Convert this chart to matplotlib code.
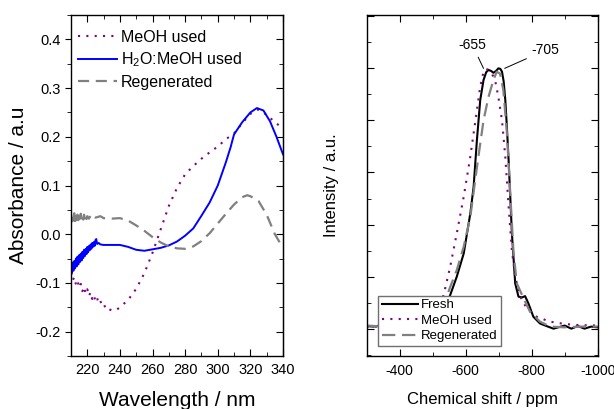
import matplotlib
matplotlib.use("Agg")
import matplotlib.pyplot as plt
from matplotlib.ticker import MultipleLocator

plt.rcParams['font.family'] = ['Liberation Sans', 'DejaVu Sans']
plt.rcParams['axes.unicode_minus'] = False
plt.rcParams['mathtext.default'] = 'regular'

# ---------------- Left panel data (UV-vis) ----------------
wl_meoh = [210, 211, 212, 213, 214, 215, 216, 217, 218, 219, 220, 221, 222, 223, 224,
           225, 226, 227, 228, 229, 230, 231, 232, 233, 234, 236, 238,
           240, 245, 250, 255, 260, 265, 270, 275, 280, 285, 290, 295, 300, 305,
           310, 315, 320, 325, 330, 335, 340]
abs_meoh = [-0.080, -0.095, -0.088, -0.103, -0.095, -0.110, -0.102, -0.117, -0.108,
            -0.122, -0.113, -0.127, -0.119, -0.133, -0.125, -0.138, -0.131, -0.142,
            -0.137, -0.146, -0.143, -0.150, -0.148, -0.154, -0.155, -0.157, -0.155,
            -0.150, -0.135, -0.112, -0.080, -0.038, 0.010, 0.058, 0.095, 0.123,
            0.140, 0.155, 0.168, 0.180, 0.195, 0.207, 0.228, 0.247, 0.256, 0.245,
            0.230, 0.217]

wl_h2o = [210.0, 210.5, 211.0, 211.5, 212.0, 212.5, 213.0, 213.5, 214.0, 214.5,
          215.0, 215.5, 216.0, 216.5, 217.0, 217.5, 218.0, 218.5, 219.0, 219.5,
          220.0, 220.5, 221.0, 221.5, 222.0, 222.5, 223.0, 223.5, 224.0, 224.5,
          225.0, 225.5, 226.0, 227.0, 228, 230, 235, 240, 245, 250, 255, 260, 265,
          270, 275, 280, 285, 290, 295, 300, 305, 308, 309, 310, 315, 320, 324, 328,
          332, 336, 340]
abs_h2o = [-0.062, -0.080, -0.058, -0.075, -0.055, -0.070, -0.050, -0.066, -0.046,
           -0.062, -0.043, -0.057, -0.040, -0.054, -0.036, -0.049, -0.032, -0.045,
           -0.030, -0.041, -0.026, -0.037, -0.024, -0.033, -0.021, -0.030, -0.018,
           -0.026, -0.016, -0.024, -0.012, -0.010, -0.020, -0.018, -0.021, -0.022,
           -0.022, -0.022, -0.026, -0.032, -0.034, -0.031, -0.028, -0.023, -0.015,
           -0.003, 0.012, 0.038, 0.065, 0.100, 0.148, 0.180, 0.193, 0.205, 0.230,
           0.250, 0.259, 0.254, 0.232, 0.200, 0.164]

wl_regen = [210.0, 210.5, 211.0, 211.5, 212.0, 212.5, 213.0, 213.5, 214.0, 214.5,
            215.0, 215.5, 216.0, 216.5, 217.0, 217.5, 218.0, 218.5, 219.0, 219.5,
            220.0, 221.0, 222.0, 223.0, 224.0, 225.0, 226, 228,
            230, 235, 240, 245, 250, 255, 260, 265, 270, 275, 280, 285, 290, 295,
            300, 305, 310, 315, 318, 320, 325, 330, 335, 340]
abs_regen = [0.042, 0.026, 0.040, 0.028, 0.043, 0.027, 0.038, 0.026, 0.040, 0.029,
             0.037, 0.026, 0.042, 0.028, 0.036, 0.030, 0.040, 0.029, 0.038, 0.031,
             0.037, 0.032, 0.038, 0.033, 0.036, 0.034, 0.035, 0.037,
             0.033, 0.032, 0.033, 0.028, 0.018, 0.007, -0.006, -0.017, -0.025,
             -0.029, -0.030, -0.025, -0.014, 0.002, 0.022, 0.042, 0.061, 0.076,
             0.080, 0.078, 0.068, 0.040, 0.000, -0.028]

# ---------------- Right panel data (NMR) ----------------
ppm_fresh = [-300, -320, -340, -350, -360, -380, -400, -450, -500, -520, -540, -553,
             -573, -594, -614, -624, -634, -644, -654, -662, -669, -677, -684, -692,
             -699, -705, -710, -715, -720, -725, -730, -740, -750, -760, -770, -780,
             -790, -805, -825, -845, -866, -880, -900, -920, -940, -960, -980, -1000]
int_fresh = [0.010, 0.008, 0.012, 0.000, 0.008, 0.006, 0.005, 0.005, 0.010, 0.040,
             0.090, 0.129, 0.200, 0.289, 0.443, 0.545, 0.725, 0.878, 0.955, 0.985,
             0.994, 0.990, 0.983, 0.990, 1.000, 0.998, 0.987, 0.950, 0.878, 0.770,
             0.648, 0.366, 0.174, 0.123, 0.120, 0.125, 0.097, 0.046, 0.020, 0.010,
             0.000, 0.005, 0.012, 0.000, 0.010, 0.000, 0.008, 0.005]

ppm_meoh = [-300, -350, -400, -450, -480, -500, -515, -533, -553, -573, -594, -614,
            -634, -644, -654, -662, -669, -679, -689, -699, -710, -720, -730, -740,
            -750, -765, -785, -815, -855, -900, -937, -1000]
int_meoh = [0.008, 0.008, 0.008, 0.010, 0.020, 0.040, 0.070, 0.129, 0.238, 0.366,
            0.507, 0.661, 0.840, 0.930, 0.987, 0.998, 0.994, 0.980, 0.955, 0.890,
            0.800, 0.660, 0.470, 0.300, 0.200, 0.123, 0.078, 0.046, 0.027, 0.018,
            0.014, 0.012]

ppm_regen = [-300, -350, -400, -450, -500, -530, -553, -573, -594, -614, -634, -654,
             -669, -684, -694, -704, -714, -725, -735, -745, -755, -775, -795, -825,
             -856, -900, -950, -1000]
int_regen = [0.012, 0.008, 0.008, 0.010, 0.030, 0.080, 0.160, 0.225, 0.315, 0.430,
             0.620, 0.800, 0.890, 0.955, 0.987, 0.980, 0.917, 0.750, 0.520, 0.290,
             0.174, 0.117, 0.065, 0.027, 0.008, 0.005, 0.008, 0.008]

peak_labels = ['-655', '-705']

# ---------------- Figure ----------------
fig = plt.figure(figsize=(6.14, 4.09), dpi=100)
ax1 = fig.add_axes([71 / 614, 1 - 356 / 409, 212 / 614, 341 / 409])
ax2 = fig.add_axes([366.7 / 614, 1 - 356 / 409, 231 / 614, 341 / 409])

purple = '#800080'
blue = '#0000ff'
gray = '#808080'

ax1.plot(wl_meoh, abs_meoh, color=purple, lw=1.5, linestyle=(0, (1, 3)),
         label='MeOH used')
ax1.plot(wl_h2o, abs_h2o, color=blue, lw=1.4, label='H$_2$O:MeOH used')
ax1.plot(wl_regen, abs_regen, color=gray, lw=1.6, linestyle=(0, (5, 3)),
         label='Regenerated')

ax1.set_xlim(210, 340)
ax1.set_ylim(-0.25, 0.45)
ax1.xaxis.set_minor_locator(MultipleLocator(10))
ax1.yaxis.set_minor_locator(MultipleLocator(0.05))
ax1.set_xticks([220, 240, 260, 280, 300, 320, 340])
ax1.set_yticks([-0.2, -0.1, 0.0, 0.1, 0.2, 0.3, 0.4])
ax1.set_yticklabels(['-0.2', '-0.1', '0.0', '0.1', '0.2', '0.3', '0.4'])
ax1.tick_params(axis='x', which='both', direction='in', top=True, labelsize=10.5, pad=5)
ax1.tick_params(axis='x', which='major', length=5)
ax1.tick_params(axis='x', which='minor', length=3)
ax1.tick_params(axis='y', which='major', direction='out', length=4, labelsize=10.5)
ax1.tick_params(axis='y', which='minor', direction='out', length=3)
ax1.set_xlabel('Wavelength / nm', fontsize=15, labelpad=10)
ax1.set_ylabel('Absorbance / a.u', fontsize=15, labelpad=5)
# right side ticks inward
ax1r = ax1.secondary_yaxis('right')
ax1r.set_yticks([-0.2, -0.1, 0.0, 0.1, 0.2, 0.3, 0.4])
ax1r.yaxis.set_minor_locator(MultipleLocator(0.05))
ax1r.tick_params(axis='y', which='both', direction='in', labelright=False)
ax1r.tick_params(axis='y', which='major', length=5)
ax1r.tick_params(axis='y', which='minor', length=3)
leg1 = ax1.legend(loc='upper left', bbox_to_anchor=(-0.01, 0.985), frameon=False,
                  fontsize=11.5, handlelength=2.4, handletextpad=0.25,
                  labelspacing=0.35, borderaxespad=0.2)

# Right panel
ax2.plot(ppm_fresh, int_fresh, color='black', lw=1.5, label='Fresh')
ax2.plot(ppm_meoh, int_meoh, color=purple, lw=1.5, linestyle=(0, (1, 3)),
         label='MeOH used')
ax2.plot(ppm_regen, int_regen, color=gray, lw=1.6, linestyle=(0, (6, 3)),
         label='Regenerated')
ax2.set_xlim(-300, -1000)
ax2.set_ylim(-0.105, 1.205)
ax2.set_xticks([-400, -600, -800, -1000])
ax2.xaxis.set_minor_locator(MultipleLocator(100))
ax2.yaxis.set_major_locator(MultipleLocator(0.2))
ax2.yaxis.set_minor_locator(MultipleLocator(0.1))
ax2.tick_params(axis='both', which='both', direction='in', top=True, right=True,
                labelleft=False)
ax2.tick_params(axis='both', which='major', length=5, labelsize=10)
ax2.tick_params(axis='both', which='minor', length=3)
ax2.tick_params(axis='x', pad=6)
ax2.set_xlabel('Chemical shift / ppm', fontsize=12, labelpad=10)
ax2.set_ylabel('Intensity / a.u.', fontsize=12, labelpad=20)

ax2.annotate(peak_labels[0], xy=(-654, 1.0), xytext=(-620, 1.09),
             fontsize=10, ha='center', va='center',
             arrowprops=dict(arrowstyle='-', lw=0.7, color='black',
                             shrinkA=2, shrinkB=0))
ax2.annotate(peak_labels[1], xy=(-718, 1.0), xytext=(-800, 1.07),
             fontsize=10, ha='left', va='center',
             arrowprops=dict(arrowstyle='-', lw=0.7, color='black',
                             shrinkA=2, shrinkB=0))

leg2 = ax2.legend(loc='lower left', bbox_to_anchor=(0.05, 0.03), frameon=True,
                  fancybox=False, fontsize=9.5, handlelength=2.8,
                  handletextpad=0.2, labelspacing=0.25, borderpad=0.25,
                  borderaxespad=0.0)
leg2.get_frame().set_edgecolor('#707070')
leg2.get_frame().set_linewidth(1.0)
leg2.get_frame().set_alpha(1.0)

for ax in (ax1, ax2):
    for s in ax.spines.values():
        s.set_linewidth(1.0)

fig.savefig('out.png', dpi=100)
